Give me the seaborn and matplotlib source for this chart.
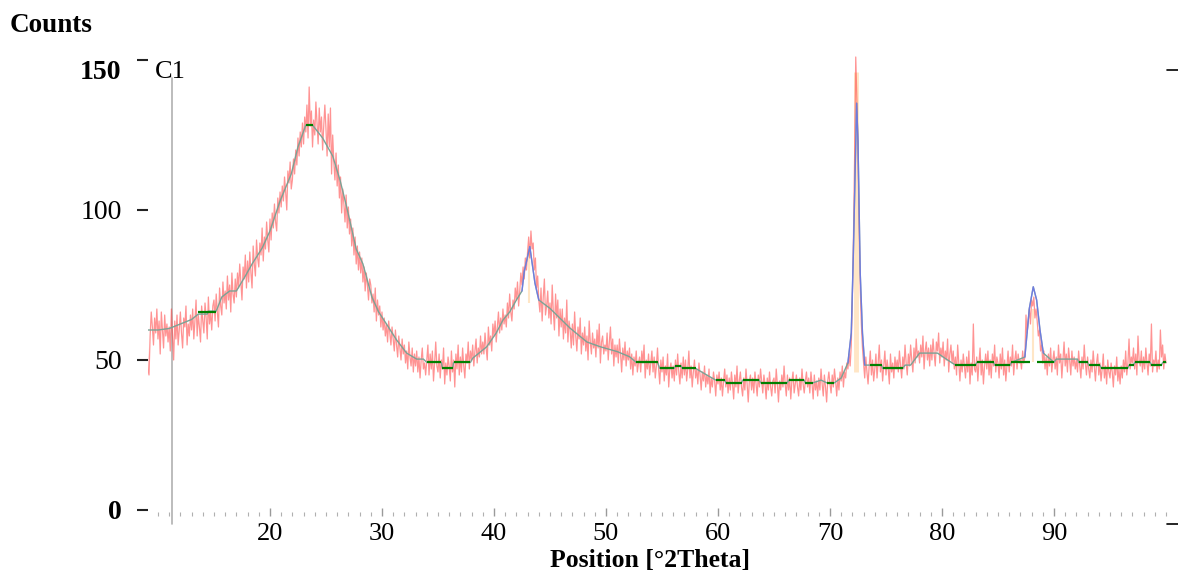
import numpy as np
import pandas as pd
import seaborn as sns
import matplotlib.pyplot as plt
import matplotlib.transforms as mtransforms
from matplotlib.lines import Line2D
from matplotlib.ticker import MultipleLocator

# ---------------- data ----------------
start_2theta = 9.0
step_2theta = 0.1
# measured counts, one row per degree (x.0 ... x.9)
counts_rows = [
    [63, 47, 45, 58, 66, 61, 55, 64, 59, 67],   # 9
    [57, 63, 52, 66, 60, 54, 65, 58, 62, 56],   # 10
    [61, 53, 67, 58, 50, 63, 57, 65, 55, 60],   # 11
    [66, 59, 54, 64, 61, 68, 55, 62, 58, 65],   # 12
    [60, 67, 57, 63, 70, 58, 65, 61, 56, 68],   # 13
    [63, 59, 69, 64, 57, 71, 62, 66, 60, 68],   # 14
    [70, 63, 72, 66, 61, 74, 68, 65, 76, 69],   # 15
    [73, 67, 78, 70, 75, 66, 79, 72, 69, 77],   # 16
    [71, 79, 74, 82, 76, 70, 81, 77, 85, 74],   # 17
    [83, 76, 86, 79, 74, 88, 82, 78, 90, 84],   # 18
    [81, 89, 85, 94, 83, 91, 87, 96, 90, 86],   # 19
    [97, 90, 99, 94, 102, 96, 93, 104, 99, 106],  # 20
    [101, 108, 103, 111, 106, 100, 113, 109, 116, 107],  # 21
    [110, 117, 112, 120, 115, 124, 118, 126, 121, 129],  # 22
    [122, 131, 126, 135, 124, 141, 128, 133, 121, 130],  # 23
    [125, 136, 129, 122, 134, 126, 131, 120, 128, 135],  # 24
    [127, 118, 132, 121, 134, 112, 125, 116, 110, 119],  # 25
    [108, 115, 104, 111, 99, 107, 102, 96, 105, 94],     # 26
    [101, 92, 97, 88, 94, 85, 91, 82, 88, 80],   # 27
    [86, 79, 84, 76, 81, 73, 79, 75, 70, 77],    # 28
    [75, 69, 72, 66, 74, 63, 70, 65, 68, 61],    # 29
    [66, 60, 64, 58, 62, 56, 63, 59, 55, 61],    # 30
    [57, 53, 60, 55, 51, 58, 54, 50, 57, 52],    # 31
    [55, 49, 53, 47, 56, 51, 48, 54, 46, 52],    # 32
    [48, 53, 46, 51, 44, 50, 54, 47, 49, 45],    # 33
    [50, 55, 45, 52, 47, 53, 43, 49, 56, 48],    # 34
    [46, 52, 44, 50, 47, 54, 42, 49, 45, 51],    # 35
    [48, 43, 53, 46, 50, 41, 52, 47, 55, 45],    # 36
    [51, 46, 54, 48, 44, 52, 49, 56, 47, 53],    # 37
    [50, 55, 48, 53, 57, 49, 54, 51, 58, 52],    # 38
    [56, 52, 59, 54, 50, 61, 55, 58, 53, 62],    # 39
    [58, 63, 56, 61, 66, 59, 64, 60, 67, 62],    # 40
    [65, 61, 69, 64, 72, 66, 63, 70, 67, 74],    # 41
    [70, 76, 68, 73, 79, 75, 81, 77, 84, 80],    # 42
    [86, 91, 84, 93, 87, 89, 80, 84, 74, 78],    # 43
    [70, 66, 74, 63, 71, 77, 65, 68, 73, 64],    # 44
    [69, 62, 75, 66, 60, 72, 64, 70, 58, 67],    # 45
    [61, 67, 57, 64, 59, 70, 56, 63, 60, 54],    # 46
    [62, 55, 66, 58, 53, 61, 57, 64, 52, 59],    # 47
    [55, 61, 53, 58, 50, 63, 56, 52, 59, 54],    # 48
    [57, 51, 60, 54, 62, 49, 56, 58, 52, 55],    # 49
    [53, 59, 50, 56, 61, 52, 57, 48, 55, 51],    # 50
    [55, 49, 57, 52, 46, 54, 50, 56, 48, 53],    # 51
    [50, 54, 47, 52, 45, 51, 48, 53, 46, 49],    # 52
    [51, 46, 53, 49, 55, 44, 50, 47, 52, 45],    # 53
    [49, 53, 46, 51, 44, 48, 54, 47, 42, 50],    # 54
    [46, 51, 43, 48, 45, 52, 41, 47, 49, 44],    # 55
    [48, 43, 50, 45, 52, 46, 42, 49, 44, 51],    # 56
    [45, 50, 43, 47, 53, 44, 48, 41, 46, 50],    # 57
    [44, 47, 42, 49, 45, 40, 46, 43, 48, 41],    # 58
    [45, 42, 47, 39, 44, 41, 46, 43, 38, 45],    # 59
    [42, 46, 40, 44, 38, 43, 47, 41, 45, 39],    # 60
    [44, 40, 46, 42, 37, 45, 41, 48, 39, 43],    # 61
    [46, 41, 38, 44, 40, 47, 42, 36, 43, 45],    # 62
    [40, 44, 39, 46, 42, 38, 45, 41, 47, 43],    # 63
    [39, 45, 42, 37, 44, 40, 46, 41, 38, 43],    # 64
    [44, 39, 47, 42, 36, 43, 40, 45, 41, 48],    # 65
    [42, 38, 45, 40, 44, 37, 43, 46, 39, 42],    # 66
    [45, 41, 38, 44, 40, 47, 42, 39, 43, 46],    # 67
    [41, 44, 39, 46, 42, 37, 45, 40, 43, 38],    # 68
    [44, 40, 47, 42, 38, 45, 41, 36, 43, 46],    # 69
    [42, 39, 45, 41, 47, 43, 38, 44, 40, 46],    # 70
    [43, 48, 41, 46, 44, 49, 47, 52, 48, 55],    # 71
    [70, 92, 118, 151, 137, 119, 95, 74, 62, 54],  # 72
    [49, 44, 51, 46, 42, 48, 53, 45, 50, 43],    # 73
    [47, 52, 44, 49, 55, 46, 50, 43, 48, 53],    # 74
    [45, 50, 47, 42, 52, 46, 49, 44, 51, 47],    # 75
    [50, 46, 53, 48, 44, 51, 47, 55, 49, 45],    # 76
    [52, 48, 55, 50, 46, 54, 49, 57, 51, 53],    # 77
    [49, 55, 51, 58, 47, 53, 56, 50, 54, 48],    # 78
    [55, 50, 57, 52, 48, 56, 53, 59, 49, 54],    # 79
    [51, 56, 48, 53, 50, 57, 46, 52, 55, 49],    # 80
    [53, 47, 51, 45, 55, 49, 43, 50, 46, 52],    # 81
    [48, 44, 51, 46, 53, 42, 49, 45, 62, 47],    # 82
    [46, 51, 43, 49, 54, 45, 50, 42, 48, 52],    # 83
    [47, 53, 45, 50, 44, 52, 48, 55, 46, 51],    # 84
    [49, 44, 52, 47, 54, 45, 50, 43, 48, 53],    # 85
    [46, 51, 48, 55, 45, 50, 53, 47, 52, 49],    # 86
    [50, 47, 53, 49, 51, 65, 59, 63, 67, 62],    # 87
    [70, 68, 71, 64, 67, 63, 58, 60, 53, 55],    # 88
    [49, 53, 47, 51, 45, 52, 48, 54, 46, 50],    # 89
    [53, 47, 51, 45, 55, 49, 52, 44, 50, 56],    # 90
    [48, 52, 46, 54, 50, 45, 53, 48, 51, 47],    # 91
    [50, 46, 53, 48, 44, 51, 47, 55, 49, 45],    # 92
    [51, 47, 44, 50, 46, 53, 48, 43, 49, 52],    # 93
    [45, 49, 43, 47, 52, 44, 48, 42, 50, 46],    # 94
    [44, 49, 46, 41, 48, 45, 51, 43, 47, 42],    # 95
    [48, 44, 50, 46, 53, 45, 49, 57, 47, 51],    # 96
    [49, 54, 47, 52, 45, 58, 50, 48, 53, 46],    # 97
    [51, 47, 54, 49, 45, 52, 48, 62, 46, 50],    # 98
    [48, 53, 46, 50, 47, 60, 51, 55, 47, 52],    # 99
    [49],                                        # 100
]

# calculated profile (read at characteristic points)
profile_x = [9.1, 10.0, 11.0, 12.0, 13.0, 13.6, 14.4, 14.5, 15.2, 15.7, 16.4, 17.0,
             17.8, 18.4, 19.3, 20.0, 20.9, 21.9, 22.5, 23.2, 23.8, 24.7, 25.6, 26.25,
             26.85, 27.7, 28.3, 29.1, 29.7, 30.4, 31.3, 32.2, 33.1, 33.7, 34.0, 35.3,
             35.4, 36.3, 36.4, 37.9, 38.1, 39.35, 40.2, 40.8, 41.4, 42.0, 42.5, 42.7,
             43.2, 43.66, 44.0, 45.0, 46.2, 46.8, 48.3, 49.5, 51.0, 52.1, 52.7, 54.6,
             54.8, 56.1, 56.2, 56.7, 56.8, 58.0, 59.0, 59.8, 60.6, 60.7, 62.1, 62.2,
             63.7, 63.8, 66.2, 66.3, 67.7, 67.8, 68.5, 69.2, 69.7, 70.4, 71.0, 71.6,
             71.9, 72.08, 72.38, 72.5, 72.7, 72.9, 73.1, 73.6, 74.6, 74.7, 76.5, 76.7,
             77.2, 78.0, 79.6, 80.3, 81.2, 83.0, 83.1, 84.6, 84.7, 86.1, 86.2, 87.4,
             87.6, 87.8, 88.15, 88.45, 88.75, 89.05, 90.0, 90.2, 92.1, 92.2, 93.0, 93.1,
             94.1, 94.2, 96.6, 96.7, 97.1, 97.2, 98.6, 98.7, 99.6, 99.7, 100.0]
profile_y = [60, 60, 60.5, 62, 63.5, 65.3, 65.3, 66.3, 66.3, 71, 73, 73,
             78, 82, 87.3, 93, 103, 112, 121, 128.3, 128.3, 124, 118, 110,
             101, 87, 82, 71, 66, 62, 56.7, 52.3, 50.3, 50.3, 49.2, 49.2,
             47.2, 47.2, 49.2, 49.2, 50.6, 54.4, 59, 63.3, 66, 70, 73, 79.4,
             87.8, 75.6, 70, 67.2, 62.8, 60.6, 56, 54.4, 52.8, 51.1, 49.2, 49.2,
             47.2, 47.2, 48.1, 48.1, 47.2, 47.2, 45, 43.3, 43.3, 42.4, 42.4, 43.3,
             43.3, 42.4, 42.4, 43.3, 43.3, 42.4, 42.4, 43.3, 42.4, 42.4, 44, 49,
             59, 84.4, 135.6, 123, 79, 59, 48.3, 48.3, 48.3, 47.2, 47.2, 48.3,
             48.3, 52.3, 52.3, 50.5, 48.3, 48.3, 49.2, 49.2, 48.3, 48.3, 49.2, 51,
             59, 67.2, 74.4, 70, 60, 52.3, 49.2, 50.3, 50.3, 49.2, 49.2, 48.3,
             48.3, 47.3, 47.3, 48.3, 48.3, 49.2, 49.2, 48.3, 48.3, 49.2, 49.2]

# fitted peak regions (drawn in blue)
peak_lo = [42.5, 71.6, 87.4]
peak_hi = [44.0, 73.1, 89.05]

# background steps
bg_start = [13.6, 23.2, 34.0, 35.4, 36.4, 52.7, 54.8, 56.2, 56.8, 59.8, 60.7, 62.2,
            63.8, 66.3, 67.8, 69.7, 73.6, 74.7, 81.2, 83.1, 84.7, 86.2, 88.5, 92.2,
            93.1, 94.2, 96.7, 97.2, 98.7, 99.7]
bg_end = [15.2, 23.8, 35.3, 36.3, 37.9, 54.6, 56.1, 56.7, 58.0, 60.6, 62.1, 63.7,
          66.2, 67.7, 68.5, 70.4, 74.6, 76.5, 83.0, 84.6, 86.1, 87.9, 90.0, 93.0,
          94.1, 96.6, 97.1, 98.6, 99.6, 100.0]
bg_level = [66, 128.3, 49.2, 47.2, 49.2, 49.2, 47.2, 48.1, 47.2, 43.3, 42.4, 43.3,
            42.4, 43.3, 42.4, 42.4, 48.3, 47.2, 48.3, 49.2, 48.3, 49.2, 49.2, 49.2,
            48.3, 47.3, 48.3, 49.2, 48.3, 49.2]

# peak position sticks
stick_pos = [43.15, 72.35, 88.15]
stick_base = [69, 46, 49.2]
stick_top = [87, 146, 67]

y_ticks = [0, 50, 100, 150]
x_ticks = [20, 30, 40, 50, 60, 70, 80, 90]

# ---------------- drawing ----------------
counts = [v for row in counts_rows for v in row]
two_theta = np.round(start_2theta + step_2theta * np.arange(len(counts)), 2)
df = pd.DataFrame({"two_theta": two_theta, "counts": counts})
prof = pd.DataFrame({"x": profile_x, "y": profile_y})

sns.set_theme(style="white")
plt.rcParams["font.family"] = ["Liberation Serif", "DejaVu Serif"]
plt.rcParams["text.color"] = "black"

W, H = 1178, 574
fig = plt.figure(figsize=(W / 100, H / 100), dpi=100)
ax = fig.add_axes([148 / W, (H - 516) / H, (1167 - 148) / W, (516 - 50) / H])
ax.set_xlim(9.11, 100.09)
ax.set_ylim(-2, 153.33)

ax.vlines(stick_pos, stick_base, stick_top, colors="#ffe6c6",
          linewidths=[1.5, 3.5, 1.5], zorder=1.5)

sns.lineplot(data=df, x="two_theta", y="counts", ax=ax, color="#ff3b3b",
             lw=0.9, alpha=0.55, estimator=None, sort=False, zorder=2)

sns.lineplot(data=prof, x="x", y="y", ax=ax, color="#7aa396", lw=1.0,
             estimator=None, sort=False, zorder=3)
for lo, hi in zip(peak_lo, peak_hi):
    seg = prof[(prof.x >= lo) & (prof.x <= hi)]
    sns.lineplot(data=seg, x="x", y="y", ax=ax, color="#6a6aff", lw=1.0,
                 alpha=0.7, estimator=None, sort=False, zorder=3.5)

ax.hlines(bg_level, bg_start, bg_end, colors="#008000", lw=1.6, zorder=4)

# y axis line of the pattern window
ax.axvline(11.25, ymin=-0.017, ymax=0.94, color="#b0b0b0", lw=1.2,
           clip_on=False, zorder=1)

for s in ax.spines.values():
    s.set_visible(False)

ax.set_xlabel("")
ax.set_ylabel("")
ax.set_yticks(y_ticks, labels=[str(v) for v in y_ticks])
ax.set_xticks(x_ticks, labels=[str(v) for v in x_ticks])
ax.xaxis.set_minor_locator(MultipleLocator(1))
ax.tick_params(axis="y", direction="out", length=8, width=1.5, color="#222222",
               labelsize=20, pad=11, labelcolor="black", left=True)
ax.tick_params(axis="x", which="major", direction="in", length=6, width=1.0,
               color="#9a9a9a", labelsize=19, pad=5, labelcolor="black", bottom=True)
ax.tick_params(axis="x", which="minor", direction="in", length=3, width=0.8,
               color="#b0b0b0", bottom=True)
for lbl in ax.get_yticklabels():
    if lbl.get_text() in ("0", "150"):
        lbl.set_fontweight("bold")
    if lbl.get_text() == "150":
        lbl.set_transform(lbl.get_transform() +
                          mtransforms.ScaledTranslation(0, -10 / 100, fig.dpi_scale_trans))

fig.text(10 / W, 1 - 25 / H, "Counts", ha="left", va="center",
         fontsize=19.5, fontweight="bold", color="black")
fig.text(155 / W, 1 - 72 / H, "C1", ha="left", va="center", fontsize=19,
         color="black")
fig.text(650 / W, 1 - 561 / H, "Position [°2Theta]", ha="center", va="center",
         fontsize=18.5, fontweight="bold", color="black")

for ypix in (70, 524):
    fig.add_artist(Line2D([1167 / W, 1178 / W], [1 - ypix / H] * 2,
                          transform=fig.transFigure, color="black", lw=1.2))

fig.savefig("out.png", dpi=100)
